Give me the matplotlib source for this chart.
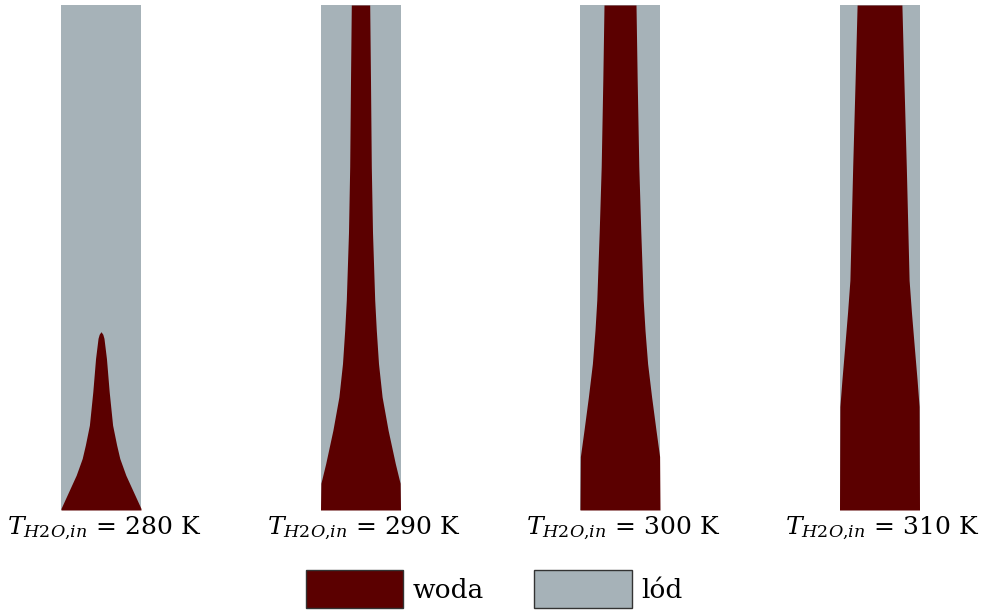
import matplotlib.pyplot as plt
import numpy as np
from matplotlib.patches import Patch

plt.rcParams["font.family"] = ["DejaVu Serif"]
plt.rcParams["mathtext.fontset"] = "dejavuserif"

WATER_COLOR = "#5b0000"
ICE_COLOR = "#a6b2b8"

temps = [280, 290, 300, 310]

# water channel: relative height (0 = bottom, 1 = top) and half-width as fraction of pipe half-width
h_280 = [0.0, 0.003, 0.036, 0.069, 0.102, 0.129, 0.168, 0.234, 0.30, 0.34, 0.348, 0.353]
w_280 = [1.0, 1.0, 0.81, 0.62, 0.47, 0.39, 0.29, 0.205, 0.136, 0.074, 0.045, 0.0]

h_290 = [0.0, 0.053, 0.092, 0.158, 0.224, 0.29, 0.356, 0.416, 0.55, 0.68, 0.85, 1.0]
w_290 = [1.0, 0.99, 0.87, 0.69, 0.54, 0.45, 0.395, 0.355, 0.30, 0.27, 0.25, 0.23]

h_300 = [0.0, 0.106, 0.158, 0.224, 0.29, 0.356, 0.416, 0.55, 0.68, 0.85, 1.0]
w_300 = [1.0, 0.99, 0.90, 0.79, 0.69, 0.625, 0.58, 0.52, 0.47, 0.43, 0.40]

h_310 = [0.0, 0.205, 0.257, 0.323, 0.39, 0.455, 0.68, 0.85, 1.0]
w_310 = [1.0, 0.99, 0.94, 0.87, 0.80, 0.74, 0.67, 0.61, 0.56]

profiles = [(h_280, w_280), (h_290, w_290), (h_300, w_300), (h_310, w_310)]

fig = plt.figure(figsize=(9.86, 6.15), dpi=100)

W, H = 986, 615
panel_left = [61, 320.5, 580, 839.5]
panel_w = 80
panel_top, panel_bottom = 5, 510

for left, (hh, ww), t in zip(panel_left, profiles, temps):
    ax = fig.add_axes([left / W, 1 - panel_bottom / H, panel_w / W, (panel_bottom - panel_top) / H])
    ax.set_xlim(-1, 1)
    ax.set_ylim(0, 1)
    ax.set_facecolor(ICE_COLOR)
    hh = np.array(hh)
    ww = np.array(ww)
    ax.fill_betweenx(hh, -ww, ww, color=WATER_COLOR, linewidth=0)
    ax.set_xticks([])
    ax.set_yticks([])
    for s in ax.spines.values():
        s.set_visible(False)
    fig.text((left + panel_w / 2 + 3) / W, 1 - 528 / H,
             r"$T_{\mathit{H2O{,}in}}$ = " + f"{t} K",
             ha="center", va="center", fontsize=18)

handles = [Patch(facecolor=WATER_COLOR, edgecolor="#333333", linewidth=1, label="woda"),
           Patch(facecolor=ICE_COLOR, edgecolor="#333333", linewidth=1, label="lód")]
fig.legend(handles=handles, loc="center", bbox_to_anchor=(0.501, 1 - 589 / H),
           ncol=2, frameon=False, fontsize=19, handlelength=3.7, handleheight=1.8,
           handletextpad=0.35, columnspacing=1.9)

fig.savefig("out.png", dpi=100)
